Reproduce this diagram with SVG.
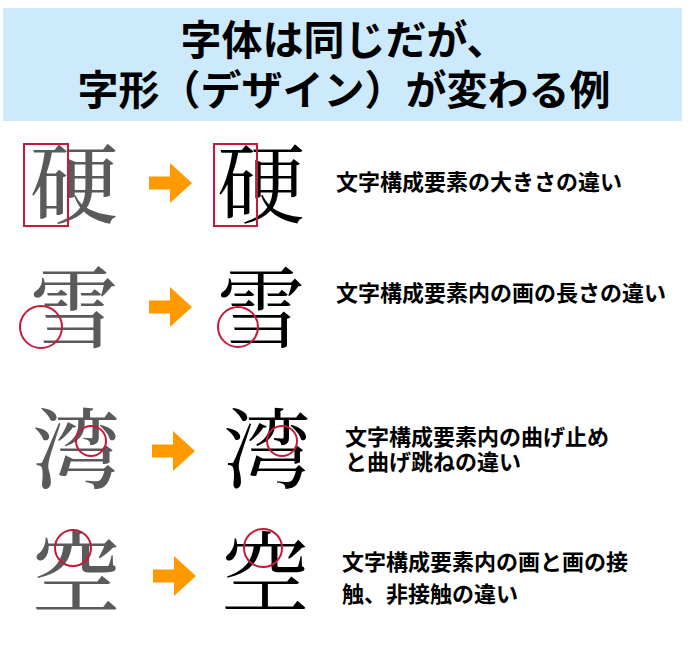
<svg xmlns="http://www.w3.org/2000/svg" width="690" height="651" viewBox="0 0 690 651">
<style>
.title{font-family:"Noto Sans CJK JP","Noto Sans CJK SC",sans-serif;font-size:41px;font-weight:700;fill:#000;text-anchor:middle}
.label{font-family:"Noto Sans CJK JP","Noto Sans CJK SC",sans-serif;font-size:22px;font-weight:700;fill:#000}
.kg{font-family:"Noto Serif CJK JP","Noto Sans CJK JP",serif;font-size:88px;font-weight:500;fill:#5a5a5a;text-anchor:middle}
.kb{font-family:"Noto Serif CJK JP","Noto Sans CJK JP",serif;font-size:88px;font-weight:400;fill:#000;text-anchor:middle}
.mark{fill:none;stroke:#c8193c;stroke-width:2}
.arrow{fill:#ff9900}
</style>
<defs>
<path id="arr" d="M0,-6.5 H21 V-20 L43,0 L21,20 V6.5 H0 Z"/>
</defs>
<rect width="690" height="651" fill="#fff"/>
<g id="title">
<rect x="3" y="8" width="679" height="113" fill="#cdeafd"/>
<text class="title"><tspan x="344" y="55">字体は同じだが、</tspan><tspan x="344" y="105">字形（デザイン）が変わる例</tspan></text>
</g>
<g id="row1-before">
<text class="kg" x="74" y="216">硬</text>
<rect class="mark" x="24" y="144" width="44" height="82"/>
</g>
<g id="row1-after">
<text class="kb" x="261" y="216">硬</text>
<rect class="mark" x="214" y="144" width="43" height="82"/>
</g>
<g id="row1-label"><text class="label" x="336" y="190">文字構成要素の大きさの違い</text></g>
<g id="row2-before">
<text class="kg" x="74" y="340">雪</text>
<circle class="mark" cx="41" cy="327" r="21"/>
</g>
<g id="row2-after">
<text class="kb" x="261" y="340">雪</text>
<circle class="mark" cx="238" cy="327" r="20"/>
</g>
<g id="row2-label"><text class="label" x="336" y="301">文字構成要素内の画の長さの違い</text></g>
<g id="row3-before">
<text class="kg" x="76" y="481">湾</text>
<circle class="mark" cx="91" cy="441" r="15"/>
</g>
<g id="row3-after">
<text class="kb" x="267" y="481">湾</text>
<circle class="mark" cx="282" cy="441" r="15"/>
</g>
<g id="row3-label">
<text class="label"><tspan x="345" y="445">文字構成要素内の曲げ止め</tspan><tspan x="345" y="470">と曲げ跳ねの違い</tspan></text>
</g>
<g id="row4-before">
<text class="kg" x="76" y="605">空</text>
<circle class="mark" cx="73" cy="548" r="18"/>
</g>
<g id="row4-after">
<text class="kb" x="265" y="605">空</text>
<circle class="mark" cx="263" cy="548" r="19"/>
</g>
<g id="row4-label">
<text class="label"><tspan x="342" y="570">文字構成要素内の画と画の接</tspan><tspan x="342" y="602">触、非接触の違い</tspan></text>
</g>
<g id="connectors" class="arrow">
<use href="#arr" x="149" y="183"/>
<use href="#arr" x="149" y="307"/>
<use href="#arr" x="152" y="451"/>
<use href="#arr" x="153" y="576"/>
</g>
</svg>
